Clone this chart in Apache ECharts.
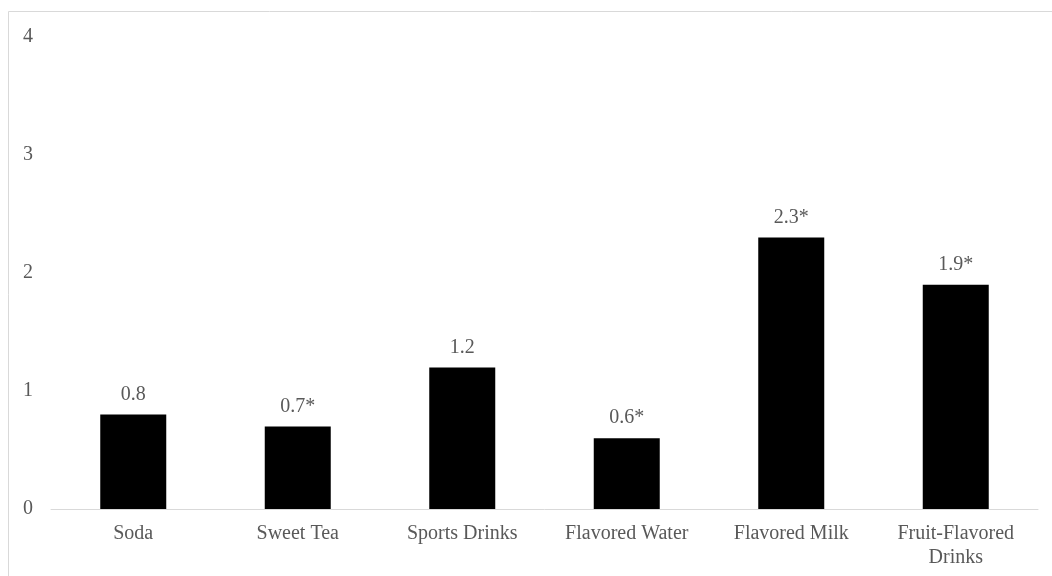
<!DOCTYPE html>
<html>
<head>
<meta charset="utf-8">
<style>
  html, body { margin: 0; padding: 0; background: #ffffff; }
  #chart { width: 1052px; height: 576px; }
</style>
<script src="https://cdn.jsdelivr.net/npm/echarts@6/dist/echarts.min.js"></script>
</head>
<body>
<div id="chart"></div>
<script>
// Beverage categories and their values
const categories = ['Soda', 'Sweet Tea', 'Sports Drinks', 'Flavored Water', 'Flavored Milk', 'Fruit-Flavored\nDrinks'];
const values = [0.8, 0.7, 1.2, 0.6, 2.3, 1.9];
// Significance markers appended to each value label
const markers = ['', '*', '', '*', '*', '*'];
const yTicks = [0, 1, 2, 3, 4];

const FONT = '"Liberation Serif", "Times New Roman", serif';
const TEXT = '#595959';
const LINE = '#d9d9d9';

const chart = echarts.init(document.getElementById('chart'), null, { renderer: 'canvas' });

chart.setOption({
  animation: false,
  backgroundColor: '#ffffff',
  graphic: [{
    type: 'rect',
    silent: true,
    shape: { x: 8.5, y: 11.5, width: 1200, height: 800 },
    style: { fill: 'none', stroke: LINE, lineWidth: 1 }
  }],
  grid: { left: 51, right: 14, top: 37, bottom: 67, containLabel: false },
  xAxis: {
    type: 'category',
    data: categories,
    axisLine: { show: true, lineStyle: { color: LINE, width: 1 } },
    axisTick: { show: false },
    axisLabel: {
      color: TEXT,
      fontFamily: FONT,
      fontSize: 20,
      lineHeight: 24,
      margin: 13,
      interval: 0
    },
    splitLine: { show: false }
  },
  yAxis: {
    type: 'value',
    min: yTicks[0],
    max: yTicks[yTicks.length - 1],
    interval: 1,
    axisLine: { show: false },
    axisTick: { show: false },
    splitLine: { show: false },
    axisLabel: {
      color: TEXT,
      fontFamily: FONT,
      fontSize: 20,
      margin: 18
    }
  },
  series: [{
    type: 'bar',
    data: values,
    barWidth: 66,
    itemStyle: { color: '#000000' },
    label: {
      show: true,
      position: 'top',
      distance: 10,
      color: TEXT,
      fontFamily: FONT,
      fontSize: 20,
      formatter: p => p.value.toFixed(1) + markers[p.dataIndex]
    }
  }]
});
</script>
</body>
</html>
